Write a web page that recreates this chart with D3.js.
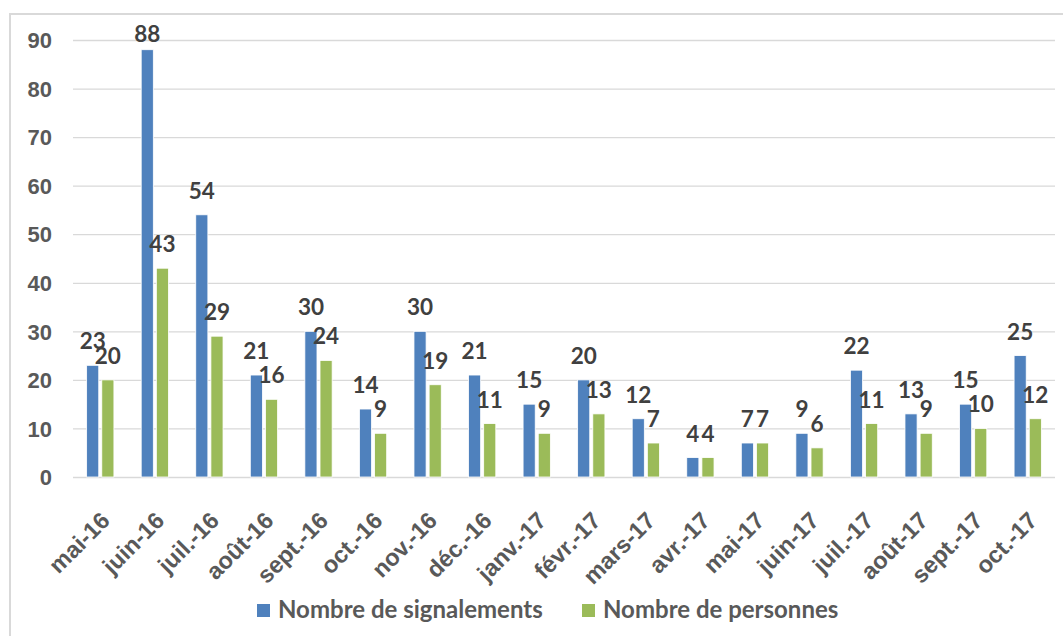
<!DOCTYPE html>
<html>
<head>
<meta charset="utf-8">
<script src="https://cdn.jsdelivr.net/npm/d3@7"></script>
<style>
  body { margin: 0; background: #fff; }
  svg { display: block; font-family: Lato, "Open Sans", sans-serif; }
</style>
</head>
<body>
<div id="chart"></div>
<script>
// Data
const categories = ["mai-16", "juin-16", "juil.-16", "août-16", "sept.-16", "oct.-16", "nov.-16", "déc.-16",
    "janv.-17", "févr.-17", "mars-17", "avr.-17", "mai-17", "juin-17", "juil.-17", "août-17", "sept.-17", "oct.-17"];
const signalements = [23, 88, 54, 21, 30, 14, 30, 21, 15, 20, 12, 4, 7, 9, 22, 13, 15, 25];
const personnes = [20, 43, 29, 16, 24, 9, 19, 11, 9, 13, 7, 4, 7, 6, 11, 9, 10, 12];
const seriesNames = ["Nombre de signalements", "Nombre de personnes"];
const yTicks = [0, 10, 20, 30, 40, 50, 60, 70, 80, 90];

const colors = ["#4f81bd", "#9bbb59"];
const width = 1063, height = 636;
const margin = { top: 40, right: 8, bottom: 159, left: 73 };
const innerW = width - margin.left - margin.right;
const innerH = height - margin.top - margin.bottom;

const svg = d3.select("#chart").append("svg")
    .attr("width", width)
    .attr("height", height);

// chart frame
svg.append("rect")
    .attr("x", 10).attr("y", 14)
    .attr("width", 1100).attr("height", 700)
    .attr("fill", "none")
    .attr("stroke", "#d9d9d9")
    .attr("stroke-width", 2);

const g = svg.append("g").attr("transform", `translate(${margin.left},${margin.top})`);

// Scales
const x0 = d3.scaleBand().domain(categories).range([0, innerW]).paddingInner(0.5).paddingOuter(0.25);
const x1 = d3.scaleBand().domain([0, 1]).range([0, x0.bandwidth()]).paddingInner(0.2);
const y = d3.scaleLinear().domain([0, 90]).range([innerH, 0]);

// Gridlines
g.append("g")
    .call(d3.axisLeft(y).tickValues(yTicks).tickSize(-innerW).tickFormat(""))
    .call(a => a.select(".domain").remove())
    .call(a => a.selectAll("line").attr("stroke", "#d9d9d9").attr("stroke-width", 1.3));

// Y labels
g.append("g")
    .call(d3.axisLeft(y).tickValues(yTicks).tickSize(0).tickPadding(21))
    .call(a => a.select(".domain").remove())
    .call(a => a.selectAll("text")
        .attr("fill", "#595959")
        .style("font-size", "22px")
        .style("font-weight", "bold")
        .attr("dy", "0.35em"));

// X labels (rotated)
g.append("g")
    .attr("transform", `translate(0,${innerH})`)
    .call(d3.axisBottom(x0).tickSize(0).tickFormat(d => d))
    .call(a => a.select(".domain").remove())
    .call(a => a.selectAll("text")
        .attr("fill", "#595959")
        .style("font-size", "23.5px")
        .style("font-weight", "bold")
        .style("text-anchor", "end")
        .attr("x", 0).attr("y", 0).attr("dy", 0)
        .attr("transform", "translate(11,45) rotate(-45)"));

// Bars
const series = [signalements, personnes];
const rows = categories.map((c, i) => ({ cat: c, vals: series.map((s, k) => ({ k, v: s[i] })) }));

const groups = g.selectAll(".grp")
    .data(rows)
    .enter().append("g")
    .attr("class", "grp")
    .attr("transform", d => `translate(${x0(d.cat)},0)`);

groups.selectAll("rect")
    .data(d => d.vals)
    .enter().append("rect")
    .attr("x", d => x1(d.k))
    .attr("y", d => y(d.v))
    .attr("width", x1.bandwidth())
    .attr("height", d => innerH - y(d.v))
    .attr("fill", d => colors[d.k])
    .attr("stroke", "#ffffff")
    .attr("stroke-width", 0.8);

// data labels
groups.selectAll("text.lbl")
    .data(d => d.vals)
    .enter().append("text")
    .attr("class", "lbl")
    .attr("x", d => x1(d.k) + x1.bandwidth() / 2)
    .attr("y", d => Math.max(y(d.v) - 16, 2))
    .attr("text-anchor", "middle")
    .attr("fill", "#404040")
    .style("font-size", "22.5px")
    .style("font-weight", "bold")
    .text(d => d.v);

// Legend
const legend = svg.append("g").attr("transform", "translate(257,604)");
const legX = [0, 325];
seriesNames.forEach((name, i) => {
    const item = legend.append("g").attr("transform", `translate(${legX[i]},0)`);
    item.append("rect").attr("width", 13).attr("height", 13).attr("fill", colors[i]);
    item.append("text")
        .attr("x", 21).attr("y", 14)
        .attr("fill", "#595959")
        .style("font-size", "24px")
        .style("font-weight", "bold")
        .text(name);
});
</script>
</body>
</html>
